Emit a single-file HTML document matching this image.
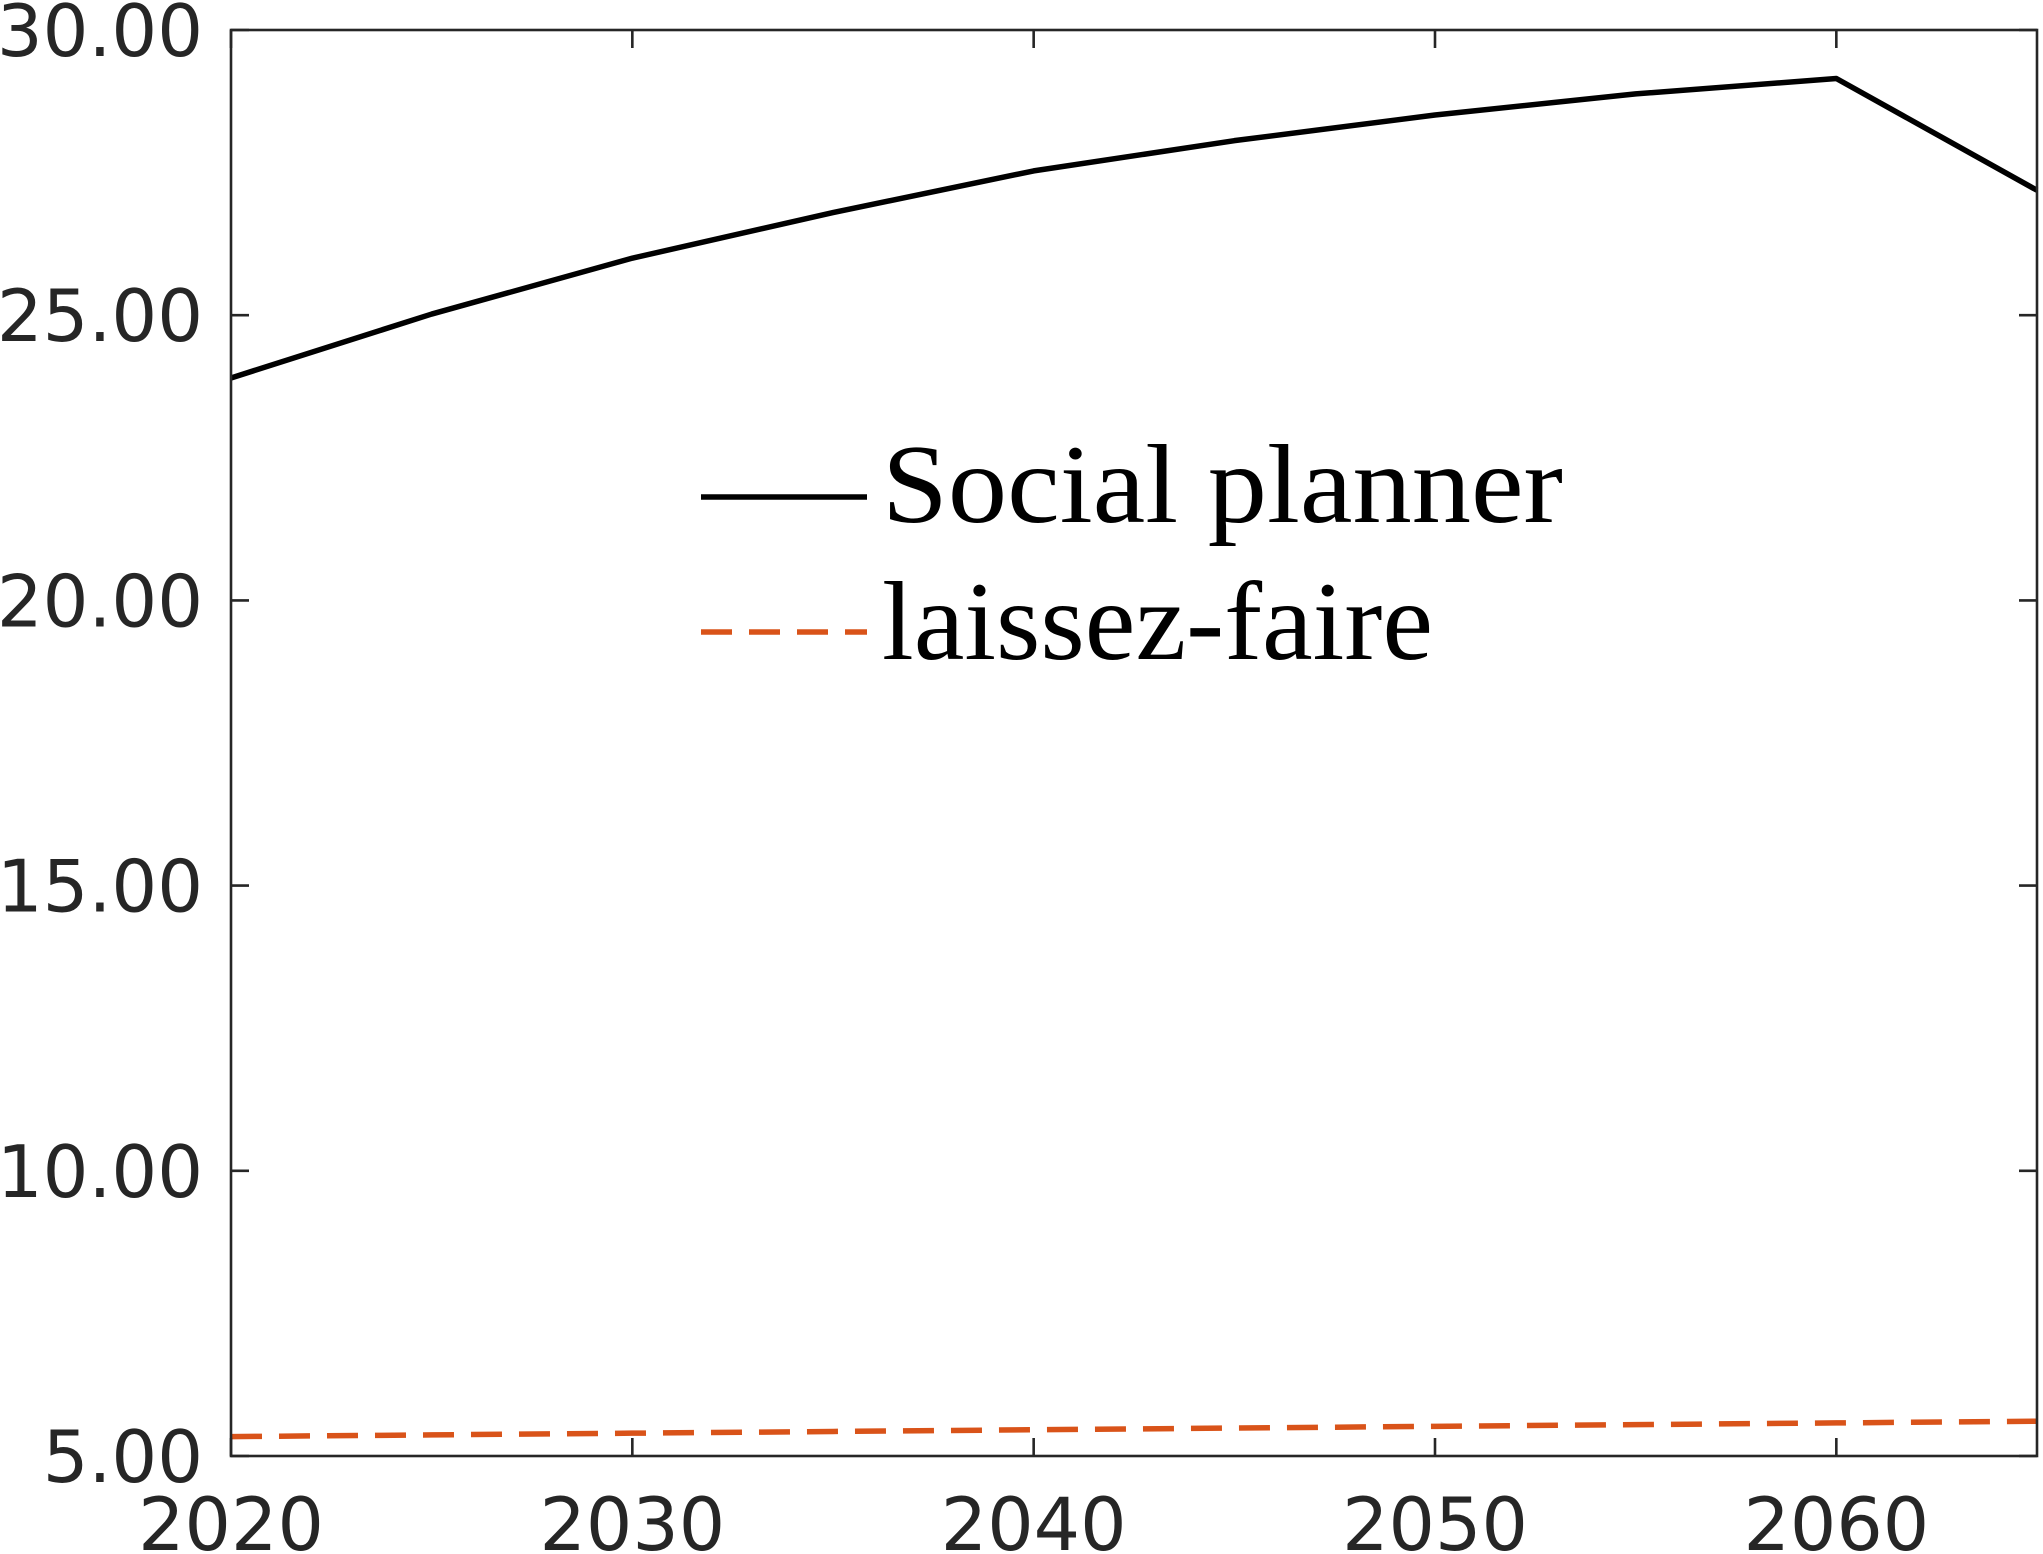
<!DOCTYPE html>
<html><head><meta charset="utf-8"><style>html,body{margin:0;padding:0;background:#fff}svg{display:block}</style></head>
<body>
<svg id="chart" width="2043" height="1554" xmlns="http://www.w3.org/2000/svg">
<g id="plot"></g>
</svg>
<script>
const years = [2020,2025,2030,2035,2040,2045,2050,2055,2060,2065];
const socialPlanner = [23.9,25.02,26.0,26.8,27.53,28.06,28.51,28.88,29.15,27.19];
const laissezFaire = [5.34,5.37,5.40,5.43,5.46,5.49,5.52,5.55,5.58,5.61];
const xTicks = [2020,2030,2040,2050,2060];
const yTicks = [5,10,15,20,25,30];
const yTickLabels = ["5.00","10.00","15.00","20.00","25.00","30.00"];

const L=231,R=2037,T=30,B=1456;
const xMin=2020,xMax=2065,yMin=5,yMax=30;
const sx=v=>L+(v-xMin)/(xMax-xMin)*(R-L);
const sy=v=>B-(v-yMin)/(yMax-yMin)*(B-T);
const NS="http://www.w3.org/2000/svg";
const g=document.getElementById('plot');
function mk(tag,attrs){const e=document.createElementNS(NS,tag);for(const k in attrs)e.setAttribute(k,attrs[k]);g.appendChild(e);return e;}

let e=mk('polyline',{points:years.map((y,i)=>sx(y)+','+sy(socialPlanner[i])).join(' '),fill:'none',stroke:'#000',"stroke-width":5.5,"stroke-linejoin":'round'});


e=mk('polyline',{points:years.map((y,i)=>sx(y)+','+sy(laissezFaire[i])).join(' '),fill:'none',stroke:'#d95319',"stroke-width":5.5,"stroke-dasharray":'31 17'});



e=mk('rect',{x:L,y:T,width:R-L,height:B-T,fill:'none',stroke:'#262626',"stroke-width":2.6});



const tl=18;
xTicks.forEach(v=>{
  const x=sx(v);
  let t=mk('path',{d:`M${x},${B}V${B-tl}M${x},${T}V${T+tl}`,stroke:'#262626',"stroke-width":2.6});
  
  
  t=mk('text',{x:x,y:1550,"text-anchor":'middle',"font-family":'"DejaVu Sans", sans-serif',"font-size":73,fill:'#262626'});
  t.textContent=v;
  
  
});
yTicks.forEach((v,i)=>{
  const y=sy(v);
  let t=mk('path',{d:`M${L},${y}H${L+tl}M${R},${y}H${R-tl}`,stroke:'#262626',"stroke-width":2.6});
  
  
  t=mk('text',{x:203,y:y+26,"text-anchor":'end',"font-family":'"DejaVu Sans", sans-serif',"font-size":72,fill:'#262626'});
  t.textContent=yTickLabels[i];
  
  
});

e=mk('line',{x1:701,y1:497,x2:867,y2:497,stroke:'#000',"stroke-width":5.5});


e=mk('text',{x:882,y:522,"font-family":'"Liberation Serif", serif',"font-size":112,fill:'#000',textLength:681,lengthAdjust:'spacingAndGlyphs'});
e.textContent='Social planner';


e=mk('line',{x1:701,y1:632,x2:867,y2:632,stroke:'#d95319',"stroke-width":5.5,"stroke-dasharray":'31 17'});


e=mk('text',{x:882,y:659,"font-family":'"Liberation Serif", serif',"font-size":112,fill:'#000',textLength:551,lengthAdjust:'spacingAndGlyphs'});
e.textContent='laissez-faire';


</script>
</body></html>
